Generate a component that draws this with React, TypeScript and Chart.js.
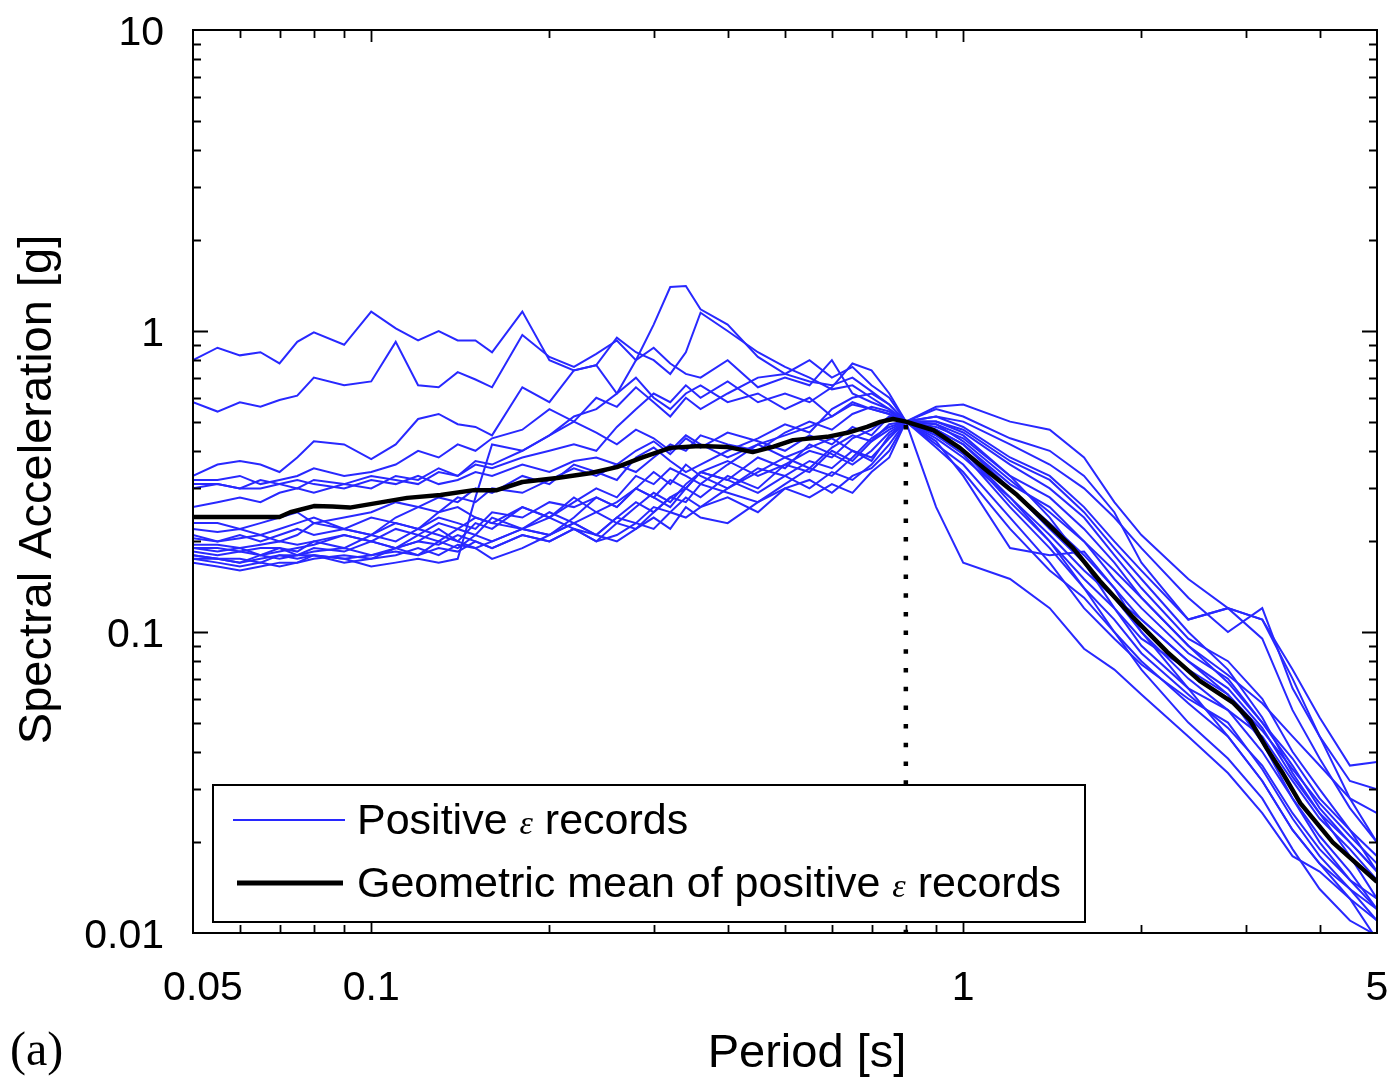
import React, { useEffect, useRef } from "react";
import { Chart, registerables } from "chart.js";

Chart.register(...registerables);

// ---------- data ----------
const periods = [
  0.05, 0.055, 0.06, 0.065, 0.07, 0.075, 0.08, 0.09, 0.1, 0.11,
  0.12, 0.13, 0.14, 0.15, 0.16, 0.18, 0.2, 0.22, 0.24, 0.26,
  0.28, 0.3, 0.32, 0.34, 0.36, 0.4, 0.45, 0.5, 0.55, 0.6,
  0.65, 0.7, 0.75, 0.8, 0.9, 1.0, 1.2, 1.4, 1.6, 1.8,
  2.0, 2.4, 2.8, 3.2, 3.6, 4.0, 4.5, 5.0,
];

const rec01 = [0.80,0.88,0.83,0.85,0.78,0.92,0.99,0.90,1.16,1.02, 0.93,1.0,0.93,0.93,0.85,1.16,0.80,0.74,0.77,0.62, 0.70,0.60,0.55,0.62,0.66,0.58,0.62,0.55,0.60,0.52, 0.58,0.55,0.53,0.5, 0.56,0.57,0.50,0.47,0.38,0.27,0.21,0.15,0.12,0.11,0.075,0.052,0.036,0.037];
const rec02 = [0.58,0.54,0.58,0.56,0.59,0.61,0.70,0.66,0.68,0.92, 0.66,0.65,0.73,0.69,0.65,0.97,0.82,0.76,0.84,0.93, 0.80,0.88,0.78,0.72,0.70,0.80,0.65,0.70,0.66,0.80, 0.62,0.58,0.55,0.5, 0.52,0.50,0.42,0.36,0.30,0.24,0.19,0.13,0.10,0.12,0.065,0.045,0.032,0.030];
const rec03 = [0.33,0.36,0.37,0.36,0.34,0.38,0.43,0.42,0.375,0.42, 0.51,0.53,0.49,0.48,0.45,0.65,0.58,0.74,0.77,0.95, 0.85,0.80,0.72,0.85,1.15,1.0,0.85,0.76,0.70,0.64, 0.66,0.60,0.55,0.5, 0.55,0.52,0.44,0.40,0.33,0.25,0.17,0.11,0.12,0.095,0.055,0.038,0.026,0.020];
const rec04 = [0.32,0.32,0.33,0.31,0.32,0.33,0.35,0.33,0.34,0.36, 0.40,0.38,0.42,0.40,0.44,0.47,0.55,0.50,0.60,0.56, 0.65,0.58,0.52,0.60,0.55,0.62,0.70,0.72,0.80,0.70, 0.76,0.66,0.60,0.5, 0.47,0.42,0.31,0.26,0.20,0.15,0.12,0.085,0.07,0.05,0.038,0.028,0.022,0.018];
const rec05 = [0.31,0.31,0.30,0.32,0.31,0.30,0.32,0.31,0.33,0.32, 0.31,0.34,0.33,0.36,0.35,0.38,0.40,0.42,0.40,0.48, 0.55,0.62,0.58,0.66,0.60,0.68,0.58,0.62,0.58,0.65, 0.78,0.74,0.62,0.5, 0.50,0.46,0.36,0.30,0.24,0.18,0.14,0.095,0.08,0.06,0.040,0.030,0.022,0.016];
const rec06 = [0.26,0.27,0.28,0.27,0.29,0.30,0.29,0.31,0.30,0.33, 0.32,0.35,0.33,0.37,0.36,0.40,0.45,0.52,0.55,0.62, 0.80,1.05,1.40,1.41,1.18,1.05,0.82,0.72,0.68,0.66, 0.70,0.63,0.57,0.5, 0.45,0.40,0.30,0.22,0.17,0.13,0.10,0.070,0.055,0.045,0.032,0.024,0.019,0.015];
const rec07 = [0.23,0.23,0.22,0.23,0.24,0.25,0.23,0.24,0.25,0.27, 0.26,0.25,0.28,0.27,0.30,0.29,0.32,0.35,0.33,0.36, 0.34,0.38,0.42,0.40,0.45,0.42,0.40,0.46,0.50,0.47, 0.53,0.56,0.54,0.5, 0.48,0.44,0.33,0.28,0.22,0.17,0.13,0.09,0.068,0.05,0.036,0.026,0.020,0.016];
const rec08 = [0.21,0.20,0.21,0.20,0.21,0.22,0.21,0.22,0.21,0.23, 0.22,0.24,0.23,0.22,0.25,0.24,0.27,0.26,0.28,0.26, 0.30,0.28,0.32,0.30,0.34,0.37,0.33,0.36,0.40,0.38, 0.44,0.47,0.52,0.5, 0.26,0.17,0.15,0.12,0.088,0.075,0.062,0.045,0.034,0.025,0.018,0.016,0.013,0.0095];
const rec09 = [0.205,0.20,0.205,0.21,0.20,0.21,0.23,0.22,0.24,0.23, 0.22,0.25,0.26,0.24,0.23,0.26,0.24,0.27,0.30,0.28, 0.33,0.31,0.35,0.33,0.31,0.36,0.42,0.38,0.35,0.41, 0.45,0.43,0.49,0.5, 0.43,0.33,0.19,0.18,0.185,0.14,0.10,0.065,0.045,0.032,0.022,0.017,0.013,0.011];
const rec10 = [0.195,0.195,0.19,0.195,0.20,0.195,0.20,0.21,0.20,0.22, 0.21,0.23,0.22,0.24,0.23,0.22,0.25,0.23,0.21,0.24, 0.27,0.25,0.28,0.30,0.28,0.33,0.30,0.36,0.34,0.40, 0.37,0.43,0.47,0.5, 0.42,0.36,0.24,0.17,0.12,0.095,0.078,0.060,0.050,0.035,0.024,0.018,0.014,0.011];
const rec11 = [0.19,0.19,0.185,0.19,0.19,0.185,0.20,0.19,0.21,0.20, 0.22,0.21,0.20,0.23,0.22,0.26,0.24,0.28,0.25,0.27, 0.30,0.28,0.26,0.30,0.34,0.32,0.38,0.35,0.42,0.39, 0.36,0.40,0.46,0.5, 0.46,0.40,0.27,0.20,0.15,0.12,0.09,0.065,0.055,0.04,0.028,0.021,0.016,0.012];
const rec12 = [0.185,0.18,0.185,0.18,0.19,0.18,0.19,0.185,0.20,0.19, 0.21,0.20,0.22,0.21,0.24,0.22,0.21,0.23,0.25,0.23, 0.22,0.25,0.28,0.27,0.31,0.29,0.27,0.31,0.35,0.33, 0.38,0.44,0.48,0.5, 0.49,0.45,0.33,0.24,0.17,0.12,0.095,0.075,0.062,0.043,0.028,0.020,0.015,0.012];
const rec13 = [0.18,0.175,0.17,0.18,0.175,0.18,0.185,0.19,0.18,0.19, 0.20,0.195,0.21,0.20,0.19,0.21,0.20,0.22,0.21,0.24, 0.23,0.26,0.25,0.28,0.26,0.30,0.35,0.33,0.30,0.34, 0.32,0.36,0.42,0.5, 0.44,0.38,0.28,0.20,0.14,0.10,0.080,0.058,0.045,0.032,0.022,0.017,0.014,0.012];
const rec14 = [0.18,0.175,0.175,0.17,0.18,0.18,0.18,0.175,0.165,0.17, 0.175,0.17,0.175,0.28,0.42,0.40,0.45,0.50,0.46,0.42, 0.47,0.44,0.40,0.45,0.42,0.38,0.42,0.45,0.48,0.52, 0.57,0.55,0.53,0.5, 0.50,0.47,0.37,0.32,0.25,0.19,0.15,0.10,0.075,0.052,0.034,0.025,0.018,0.013];
const rec15 = [0.175,0.17,0.165,0.17,0.165,0.17,0.18,0.175,0.18,0.185, 0.18,0.19,0.185,0.20,0.19,0.21,0.20,0.22,0.20,0.21, 0.23,0.22,0.25,0.24,0.26,0.28,0.25,0.30,0.32,0.29, 0.33,0.35,0.40,0.5, 0.46,0.40,0.28,0.21,0.16,0.13,0.11,0.08,0.065,0.048,0.033,0.025,0.020,0.016];
const rec16 = [0.17,0.165,0.16,0.165,0.17,0.17,0.175,0.18,0.175,0.19, 0.18,0.20,0.19,0.21,0.20,0.22,0.24,0.22,0.20,0.23, 0.26,0.29,0.27,0.31,0.34,0.32,0.29,0.33,0.37,0.35, 0.40,0.37,0.45,0.5, 0.41,0.34,0.22,0.16,0.13,0.10,0.075,0.05,0.038,0.028,0.019,0.014,0.011,0.0098];
const rec17 = [0.22,0.215,0.22,0.21,0.22,0.23,0.24,0.22,0.21,0.24, 0.26,0.28,0.27,0.30,0.29,0.33,0.31,0.36,0.34,0.32, 0.38,0.41,0.37,0.34,0.36,0.40,0.44,0.49,0.46,0.55, 0.60,0.62,0.57,0.5, 0.52,0.48,0.38,0.33,0.26,0.20,0.16,0.11,0.12,0.11,0.07,0.045,0.028,0.020];
const rec18 = [0.19,0.185,0.19,0.18,0.185,0.19,0.195,0.21,0.20,0.19, 0.20,0.22,0.20,0.19,0.175,0.19,0.21,0.24,0.28,0.26, 0.30,0.34,0.31,0.36,0.33,0.30,0.34,0.38,0.41,0.44, 0.40,0.38,0.44,0.5, 0.47,0.42,0.30,0.23,0.18,0.14,0.11,0.08,0.062,0.047,0.035,0.027,0.021,0.017];
const rec19 = [0.175,0.175,0.17,0.175,0.18,0.175,0.18,0.17,0.175,0.18, 0.19,0.18,0.195,0.19,0.20,0.22,0.21,0.23,0.21,0.20, 0.22,0.24,0.22,0.26,0.24,0.23,0.27,0.30,0.28,0.31, 0.29,0.34,0.38,0.5, 0.45,0.39,0.26,0.19,0.14,0.11,0.085,0.062,0.048,0.036,0.025,0.019,0.015,0.013];
const rec20 = [0.30,0.31,0.30,0.30,0.31,0.32,0.31,0.30,0.32,0.31, 0.33,0.31,0.32,0.34,0.33,0.36,0.34,0.37,0.38,0.36, 0.40,0.43,0.39,0.44,0.41,0.46,0.43,0.40,0.45,0.42, 0.48,0.45,0.52,0.5, 0.49,0.43,0.32,0.25,0.20,0.16,0.13,0.09,0.072,0.058,0.045,0.036,0.028,0.025];

const records = [
  rec01, rec02, rec03, rec04, rec05, rec06, rec07, rec08, rec09, rec10,
  rec11, rec12, rec13, rec14, rec15, rec16, rec17, rec18, rec19, rec20,
];

const meanPeriods = [
  0.05, 0.070, 0.073, 0.080, 0.086, 0.092, 0.102, 0.115, 0.131, 0.149,
  0.163, 0.180, 0.206, 0.234, 0.260, 0.288, 0.320, 0.359, 0.399, 0.441,
  0.477, 0.516, 0.589, 0.637, 0.688, 0.724, 0.761, 0.8, 0.889, 0.987,
  1.11, 1.233, 1.385, 1.533, 1.70, 1.935, 2.21, 2.51, 2.86, 3.05,
  3.26, 3.47, 3.71, 4.21, 5.0,
];
const meanSa = [
  0.241, 0.241, 0.25, 0.262, 0.261, 0.259, 0.268, 0.279, 0.285, 0.296,
  0.296, 0.315, 0.325, 0.337, 0.353, 0.381, 0.409, 0.415, 0.412, 0.396,
  0.412, 0.434, 0.445, 0.459, 0.48, 0.499, 0.51, 0.5, 0.469, 0.409,
  0.337, 0.285, 0.23, 0.19, 0.148, 0.112, 0.0859, 0.0688, 0.0581, 0.051,
  0.0409, 0.0338, 0.027, 0.02, 0.0148,
];

const conditioningPeriod = 0.8;
const conditioningSa = 0.5;

const xTickValues = [0.05, 0.1, 1, 5];
const xTickLabels = ["0.05", "0.1", "1", "5"];
const yTickValues = [0.01, 0.1, 1, 10];
const yTickLabels = ["0.01", "0.1", "1", "10"];
const xMajorMarks = [0.1, 1];
const xMinorMarks = [0.06, 0.07, 0.08, 0.09, 0.2, 0.3, 0.4, 0.5, 0.6, 0.7, 0.8, 0.9, 2, 3, 4];
const yMajorMarks = [0.1, 1];
const yMinorMarks = [
  0.02, 0.03, 0.04, 0.05, 0.06, 0.07, 0.08, 0.09,
  0.2, 0.3, 0.4, 0.5, 0.6, 0.7, 0.8, 0.9,
  2, 3, 4, 5, 6, 7, 8, 9,
];

const xTitle = "Period [s]";
const yTitle = "Spectral Acceleration [g]";
const legendRecords = ["Positive ", "ε", " records"];
const legendMean = ["Geometric mean of positive ", "ε", " records"];
const panelLabel = "(a)";

const BLUE = "rgb(40,40,255)";
const SANS = '"Liberation Sans", Arial, Helvetica, sans-serif';
const SERIF = '"Liberation Serif", "Times New Roman", serif';

const decorPlugin = {
  id: "decor",
  afterDatasetsDraw(chart: any) {
    const { ctx, chartArea: a, scales } = chart;
    const xs = scales.x;
    const ys = scales.y;
    ctx.save();
    ctx.strokeStyle = "#000";
    ctx.fillStyle = "#000";

    // inward tick marks on all four sides
    ctx.lineWidth = 1.8;
    ctx.beginPath();
    const xMark = (v: number, len: number) => {
      const px = Math.round(xs.getPixelForValue(v)) + 0.5;
      ctx.moveTo(px, a.bottom);
      ctx.lineTo(px, a.bottom - len);
      ctx.moveTo(px, a.top);
      ctx.lineTo(px, a.top + len);
    };
    const yMark = (v: number, len: number) => {
      const py = Math.round(ys.getPixelForValue(v)) + 0.5;
      ctx.moveTo(a.left, py);
      ctx.lineTo(a.left + len, py);
      ctx.moveTo(a.right, py);
      ctx.lineTo(a.right - len, py);
    };
    xMinorMarks.forEach((v) => xMark(v, 8));
    xMajorMarks.forEach((v) => xMark(v, 12));
    yMinorMarks.forEach((v) => yMark(v, 8));
    yMajorMarks.forEach((v) => yMark(v, 15));
    ctx.stroke();

    // frame
    ctx.lineWidth = 2;
    ctx.strokeRect(a.left, a.top, a.right - a.left, a.bottom - a.top);

    // legend box
    const lx = a.left + 20;
    const ly = a.bottom - 148;
    const lw = 872;
    const lh = 137;
    ctx.fillStyle = "#fff";
    ctx.fillRect(lx, ly, lw, lh);
    ctx.lineWidth = 2;
    ctx.strokeStyle = "#000";
    ctx.strokeRect(lx, ly, lw, lh);

    ctx.lineCap = "butt";
    ctx.strokeStyle = BLUE;
    ctx.lineWidth = 1.8;
    ctx.beginPath();
    ctx.moveTo(lx + 20, ly + 35);
    ctx.lineTo(lx + 132, ly + 35);
    ctx.stroke();
    ctx.strokeStyle = "#000";
    ctx.lineWidth = 5;
    ctx.beginPath();
    ctx.moveTo(lx + 24, ly + 98);
    ctx.lineTo(lx + 130, ly + 98);
    ctx.stroke();

    ctx.fillStyle = "#000";
    ctx.textBaseline = "alphabetic";
    ctx.textAlign = "left";
    const drawParts = (parts: string[], x0: number, yb: number) => {
      let x = x0;
      parts.forEach((p, i) => {
        ctx.font = i === 1 ? `italic 34px ${SERIF}` : `43px ${SANS}`;
        ctx.fillText(p, x, yb);
        x += ctx.measureText(p).width;
      });
    };
    drawParts(legendRecords, lx + 144, ly + 49);
    drawParts(legendMean, lx + 144, ly + 112);

    // tick labels
    ctx.font = `41px ${SANS}`;
    ctx.textAlign = "center";
    xTickValues.forEach((v, i) => {
      let px = xs.getPixelForValue(v);
      if (i === 0) px += 10;
      ctx.fillText(xTickLabels[i], px, a.bottom + 67);
    });
    ctx.textAlign = "right";
    yTickValues.forEach((v, i) => {
      const py = ys.getPixelForValue(v);
      ctx.fillText(yTickLabels[i], a.left - 29, py + 15);
    });

    // axis titles
    ctx.font = `47px ${SANS}`;
    ctx.textAlign = "center";
    ctx.fillText(xTitle, a.left + 614, a.bottom + 134);
    ctx.save();
    ctx.translate(51, (a.top + a.bottom) / 2 + 8);
    ctx.rotate(-Math.PI / 2);
    ctx.fillText(yTitle, 0, 0);
    ctx.restore();

    // panel label
    ctx.font = `48px ${SERIF}`;
    ctx.textAlign = "left";
    ctx.fillText(panelLabel, 10, 1065);

    ctx.restore();
  },
};

export default function App() {
  const canvasRef = useRef<HTMLCanvasElement | null>(null);

  useEffect(() => {
    const canvas = canvasRef.current;
    if (!canvas) return;

    const recordSets = records.map((rec, k) => ({
      label: k === 0 ? "Positive ε records" : `record ${k + 1}`,
      data: periods.map((t, i) => ({ x: t, y: rec[i] })),
      borderColor: BLUE,
      borderWidth: 2,
      pointRadius: 0,
      tension: 0,
      fill: false,
    }));

    const chart = new Chart(canvas, {
      type: "line",
      data: {
        datasets: [
          {
            label: "Geometric mean of positive ε records",
            data: meanPeriods.map((t, i) => ({ x: t, y: meanSa[i] })),
            borderColor: "#000",
            borderWidth: 4.5,
            pointRadius: 0,
            tension: 0,
            fill: false,
            borderJoinStyle: "round",
          },
          {
            label: "conditioning period",
            data: [
              { x: conditioningPeriod, y: conditioningSa },
              { x: conditioningPeriod, y: 0.01 },
            ],
            borderColor: "#000",
            borderWidth: 4.5,
            borderDash: [4.5, 14.2],
            borderDashOffset: 15.4,
            borderCapStyle: "butt",
            pointRadius: 0,
            fill: false,
          },
          ...recordSets,
        ],
      },
      options: {
        responsive: false,
        devicePixelRatio: 1,
        animation: false,
        layout: { padding: { left: 193, right: 16, top: 30, bottom: 148 } },
        scales: {
          x: { type: "logarithmic", min: 0.05, max: 5, display: false },
          y: { type: "logarithmic", min: 0.01, max: 10, display: false },
        },
        plugins: {
          legend: { display: false },
          tooltip: { enabled: false },
        },
      },
      plugins: [decorPlugin],
    } as any);

    return () => chart.destroy();
  }, []);

  return (
    <div style={{ position: "absolute", left: 0, top: 0, width: 1393, height: 1081, background: "#fff" }}>
      <canvas ref={canvasRef} width={1393} height={1081} style={{ display: "block" }} />
    </div>
  );
}
